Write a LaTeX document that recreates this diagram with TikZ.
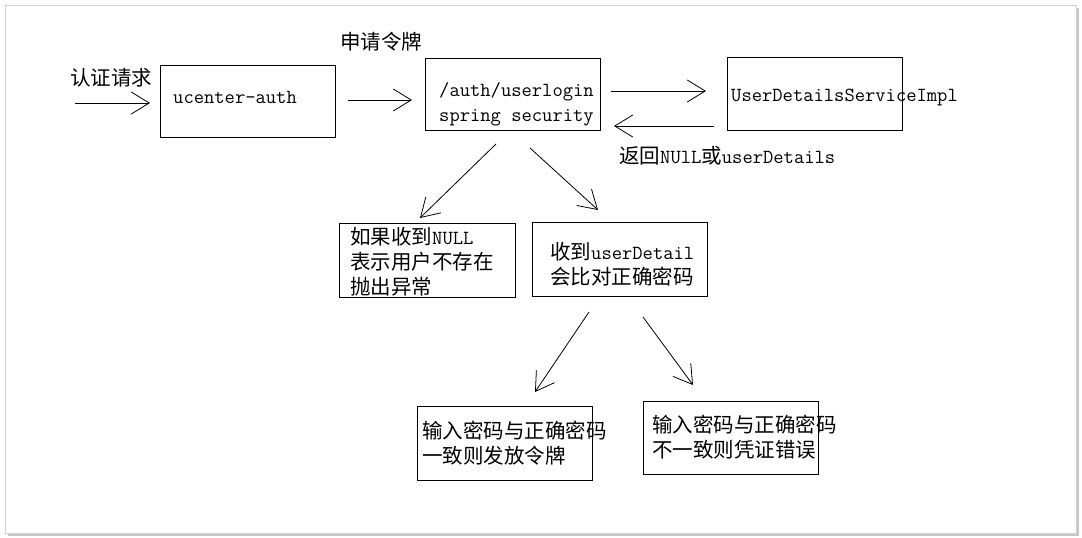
\documentclass[tikz,border=0pt]{standalone}
\usepackage{fontspec}
\newfontfamily\cjk{Noto Sans CJK SC}[Scale=1.025]
\usetikzlibrary{arrows.meta}
\tikzset{
  boxnode/.style={draw=black, line width=0.9pt, inner sep=0pt, fill=none},
  txt/.style={inner sep=0pt, align=left, anchor=west, font=\ttfamily\fontsize{20}{25}\selectfont},
  conn/.style={draw=black, line width=0.8pt, -{Straight Barb[length=18pt,width=22pt,line width=0.8pt]}},
}
\begin{document}
\begin{tikzpicture}[x=1pt,y=-1pt]
\useasboundingbox (0,0) rectangle (1082,538);
% frame
\fill[gray!45] (7.5,7.5) rectangle (1078.5,535.5);
\filldraw[draw=gray!35, fill=white, line width=0.8pt] (5,5) rectangle (1076,533);
% boxes
\node[boxnode, minimum width=175, minimum height=72] (uc) at (247.5,101) {};
\node[boxnode, minimum width=175, minimum height=72] (login) at (512.5,94) {};
\node[boxnode, minimum width=175, minimum height=73] (uds) at (814.5,93.5) {};
\node[boxnode, minimum width=176, minimum height=74] (nul) at (427,260) {};
\node[boxnode, minimum width=175, minimum height=74] (ud) at (619.5,259) {};
\node[boxnode, minimum width=175, minimum height=74] (ok) at (504.5,443) {};
\node[boxnode, minimum width=175, minimum height=73] (bad) at (730.5,437.5) {};
% texts
\node[txt] (uct) at (173,97) {ucenter-auth};
\node[txt] (logint) at (439,104.5) {/auth/userlogin\\spring security};
\node[txt] (udst) at (731,97) {UserDetailsServiceImpl};
\node[txt] (nult) at (350,262) {{\cjk 如果收到}NULL\\{\cjk 表示用户不存在}\\{\cjk 抛出异常}};
\node[txt] (udt) at (550,264.5) {{\cjk 收到}userDetail\\{\cjk 会比对正确密码}};
\node[txt] (okt) at (422,443.5) {{\cjk 输入密码与正确密码}\\{\cjk 一致则发放令牌}};
\node[txt] (badt) at (652,437.5) {{\cjk 输入密码与正确密码}\\{\cjk 不一致则凭证错误}};
% labels
\node[txt] (l1) at (70,78) {{\cjk 认证请求}};
\node[txt] (l2) at (340,42) {{\cjk 申请令牌}};
\node[txt] (l3) at (619,156) {{\cjk 返回}NUlL{\cjk 或}userDetails};
% connector end points
\coordinate (in) at (75,103);
\coordinate (a1) at (150,103);
\coordinate (b0) at (348,100);
\coordinate (b1) at (412,100);
\coordinate (c0) at (611,91);
\coordinate (c1) at (706,91);
\coordinate (d0) at (714,126);
\coordinate (d1) at (614,126);
\coordinate (e0) at (496,144);
\coordinate (e1) at (420,218);
\coordinate (f0) at (530,148);
\coordinate (f1) at (598,210);
\coordinate (g0) at (589,312);
\coordinate (g1) at (535,392);
\coordinate (h0) at (643,317);
\coordinate (h1) at (693,385);
% connectors
\draw[conn] (in) -- (a1);
\draw[conn] (b0) -- (b1);
\draw[conn] (c0) -- (c1);
\draw[conn] (d0) -- (d1);
\draw[conn] (e0) -- (e1);
\draw[conn] (f0) -- (f1);
\draw[conn] (g0) -- (g1);
\draw[conn] (h0) -- (h1);
\end{tikzpicture}
\end{document}
